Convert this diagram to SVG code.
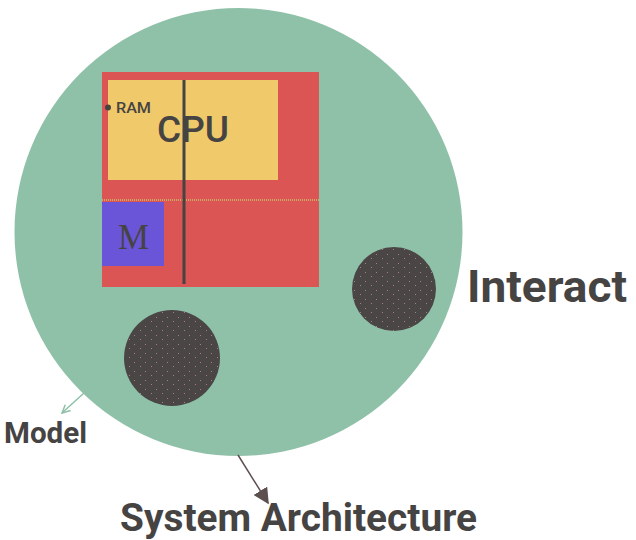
<svg xmlns="http://www.w3.org/2000/svg" width="636" height="540" viewBox="0 0 636 540">
<style>
.lbl{font-family:Roboto,"Liberation Sans",sans-serif;font-weight:bold;fill:#464343}
.dark{fill:url(#dots)}
</style>
<defs>
<pattern id="dots" width="11" height="9" patternUnits="userSpaceOnUse">
<rect width="11" height="9" fill="#4a4646"/>
<rect x="2" y="2" width="1" height="1" fill="#a77f85"/>
<rect x="8" y="6" width="1" height="1" fill="#a77f85"/>
</pattern>
<marker id="openArrow" viewBox="0 0 10 10" refX="9" refY="5" markerWidth="10" markerHeight="10" orient="auto" markerUnits="userSpaceOnUse">
<path d="M1,1 L9,5 L1,9" fill="none" stroke="#8fc1a9" stroke-width="1.5"/>
</marker>
<marker id="solidArrow" viewBox="0 0 10 10" refX="9" refY="5" markerWidth="16" markerHeight="16" orient="auto" markerUnits="userSpaceOnUse">
<path d="M0,0 L10,5 L0,10 Z" fill="#5e4f4f"/>
</marker>
</defs>
<rect width="636" height="540" fill="#ffffff"/>
<g id="system">
<circle cx="238.5" cy="232" r="224" fill="#8fc1a9"/>
</g>
<g id="board">
<rect x="102" y="72" width="217" height="215" fill="#dc5555"/>
</g>
<g id="cpu">
<rect x="108" y="80" width="170" height="100" fill="#f0c96a"/>
<text x="157" y="142" font-size="37" font-family="Roboto,'Liberation Sans',sans-serif" font-weight="500" fill="#464343" textLength="72" lengthAdjust="spacingAndGlyphs">CPU</text>
</g>
<g id="ram">
<circle cx="108" cy="107.5" r="3" fill="#464343"/>
<text class="lbl" x="116" y="112.5" font-size="15.5" textLength="35" lengthAdjust="spacingAndGlyphs" style="font-weight:500">RAM</text>
</g>
<g id="m">
<rect x="102" y="202" width="62" height="64" fill="#6a55d8"/>
<text x="118" y="249" font-size="35" font-family="'Liberation Serif',serif" fill="#464343" textLength="31" lengthAdjust="spacingAndGlyphs">M</text>
</g>
<g id="dividers">
<line x1="102" y1="200" x2="320" y2="200" stroke="#c9c46a" stroke-width="1.5" stroke-dasharray="1 1"/>
<line x1="184" y1="80" x2="184" y2="284" stroke="#464343" stroke-width="3"/>
</g>
<g id="circleA">
<circle cx="172" cy="358" r="48" class="dark"/>
</g>
<g id="circleB">
<circle cx="394" cy="289" r="42" class="dark"/>
</g>
<g id="connectors">
<line x1="84" y1="393" x2="62" y2="413" stroke="#8fc1a9" stroke-width="1.5" marker-end="url(#openArrow)"/>
<line x1="238" y1="455" x2="268" y2="503" stroke="#5e4f4f" stroke-width="1.5" marker-end="url(#solidArrow)"/>
</g>
<g id="labels">
<text class="lbl" x="467" y="302" font-size="45" textLength="160" lengthAdjust="spacingAndGlyphs">Interact</text>
<text class="lbl" x="4" y="443" font-size="30" textLength="83" lengthAdjust="spacingAndGlyphs">Model</text>
<text class="lbl" x="120" y="531" font-size="39" textLength="357" lengthAdjust="spacingAndGlyphs">System Architecture</text>
</g>
</svg>
